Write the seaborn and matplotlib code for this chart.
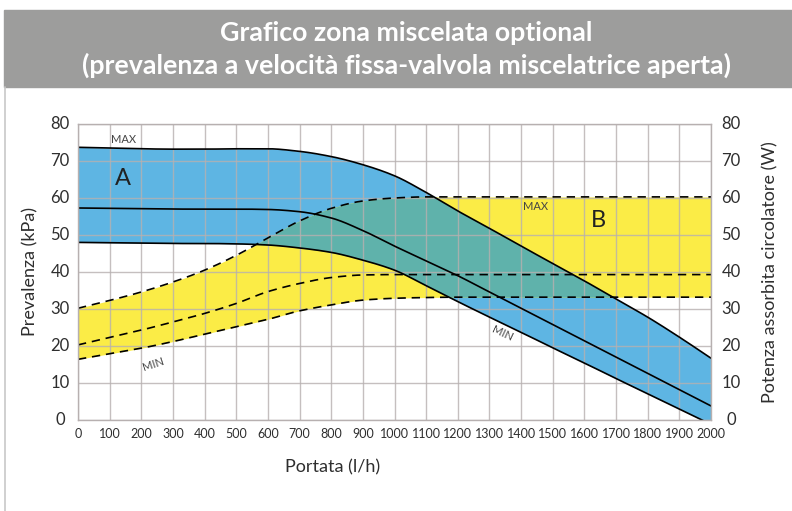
import numpy as np
import pandas as pd
import matplotlib
matplotlib.use("Agg")
import matplotlib.pyplot as plt
import seaborn as sns
from matplotlib.lines import Line2D
from matplotlib.patches import Rectangle

# ---- data ----
portata = [0, 100, 200, 300, 400, 500, 600, 700, 800, 900, 1000, 1100, 1200,
           1300, 1400, 1500, 1600, 1700, 1800, 1900, 2000]
prev_max = [73.7, 73.5, 73.3, 73.2, 73.2, 73.3, 73.3, 72.6, 71.2, 69.0, 66.0, 61.5,
            56.5, 51.8, 47.0, 42.3, 37.6, 32.7, 27.8, 22.4, 16.7]
prev_mid = [57.3, 57.2, 57.1, 57.0, 57.0, 57.0, 56.9, 56.3, 54.6, 51.2, 47.0, 43.0,
            39.0, 34.6, 30.2, 25.8, 21.4, 17.0, 12.6, 8.2, 3.8]
prev_min = [48.0, 47.9, 47.8, 47.7, 47.7, 47.6, 47.3, 46.5, 45.3, 43.2, 40.5, 36.3,
            32.0, 27.8, 23.7, 19.5, 15.4, 11.2, 7.1, 3.0, -1.2]
pot_max = [30.2, 32.3, 34.6, 37.3, 40.5, 44.5, 49.2, 53.8, 57.2, 59.2, 60.0, 60.3,
           60.3, 60.3, 60.3, 60.3, 60.3, 60.3, 60.3, 60.3, 60.3]
pot_mid = [20.3, 22.3, 24.3, 26.5, 28.8, 31.5, 34.7, 36.9, 38.5, 39.2, 39.3, 39.3,
           39.3, 39.3, 39.3, 39.3, 39.3, 39.3, 39.3, 39.3, 39.3]
pot_min = [16.4, 17.9, 19.4, 21.2, 23.2, 25.2, 27.2, 29.5, 31.1, 32.4, 32.9, 33.1,
           33.2, 33.2, 33.2, 33.2, 33.2, 33.2, 33.2, 33.2, 33.2]
x_ticks = list(range(0, 2001, 100))
y_ticks = list(range(0, 81, 10))

df = pd.DataFrame(dict(portata=portata, prev_max=prev_max, prev_mid=prev_mid,
                       prev_min=prev_min, pot_max=pot_max, pot_mid=pot_mid,
                       pot_min=pot_min))

xf = np.linspace(0, 2000, 801)


def pchip(x, y, xn):
    x = np.asarray(x, float)
    y = np.asarray(y, float)
    h = np.diff(x)
    delta = np.diff(y) / h
    n = len(x)
    d = np.zeros(n)
    for i in range(1, n - 1):
        if delta[i - 1] * delta[i] <= 0:
            d[i] = 0.0
        else:
            w1 = 2 * h[i] + h[i - 1]
            w2 = h[i] + 2 * h[i - 1]
            d[i] = (w1 + w2) / (w1 / delta[i - 1] + w2 / delta[i])
    d[0] = delta[0]
    d[-1] = delta[-1]
    idx = np.clip(np.searchsorted(x, xn) - 1, 0, n - 2)
    t = (xn - x[idx]) / h[idx]
    h00 = 2 * t**3 - 3 * t**2 + 1
    h10 = t**3 - 2 * t**2 + t
    h01 = -2 * t**3 + 3 * t**2
    h11 = t**3 - t**2
    return (h00 * y[idx] + h10 * h[idx] * d[idx] + h01 * y[idx + 1]
            + h11 * h[idx] * d[idx + 1])


c = {k: pchip(df.portata, df[k], xf)
     for k in ["prev_max", "prev_mid", "prev_min", "pot_max", "pot_mid", "pot_min"]}

BLUE = "#5eb5e3"
YELLOW = "#fbec46"
TEAL = "#5fb2ab"
GRID = "#b7b0b0"
TXT = "#2e2e2e"

sns.set_theme(style="white")
plt.rcParams["font.family"] = ["Lato", "DejaVu Sans"]

fig = plt.figure(figsize=(7.92, 5.11), dpi=100)
ax = fig.add_axes([78 / 792, 1 - 420 / 511, (711 - 78) / 792, (420 - 124) / 511])

# fills
ax.fill_between(xf, c["prev_min"], c["prev_max"], color=BLUE, lw=0, zorder=1)
ax.fill_between(xf, c["pot_min"], c["pot_max"], color=YELLOW, lw=0, zorder=1)
lo = np.maximum(c["prev_min"], c["pot_min"])
hi = np.minimum(c["prev_max"], c["pot_max"])
ax.fill_between(xf, lo, hi, where=hi > lo, color=TEAL, lw=0, zorder=2, interpolate=True)

# grid on top of fills
for xv in x_ticks:
    ax.axvline(xv, color=GRID, lw=1.0, alpha=0.8, zorder=3)
for yv in y_ticks:
    ax.axhline(yv, color=GRID, lw=1.0, alpha=0.8, zorder=3)

# curves
for k in ["prev_max", "prev_mid", "prev_min"]:
    sns.lineplot(x=xf, y=c[k], ax=ax, color="black", lw=1.2, zorder=4)
for k in ["pot_max", "pot_mid", "pot_min"]:
    sns.lineplot(x=xf, y=c[k], ax=ax, color="black", lw=1.2, zorder=4,
                 linestyle=(0, (5, 3.5)))

ax.set_xlim(0, 2000)
ax.set_ylim(0, 80)
ax.set_xticks(x_ticks)
ax.set_yticks(y_ticks)
ax.set_xticklabels([str(v) for v in x_ticks], fontsize=9, color=TXT)
ax.set_yticklabels([])
ax.tick_params(axis="both", length=0, pad=6)
for s in ax.spines.values():
    s.set_color(GRID)
    s.set_linewidth(1.0)
    s.set_zorder(5)

# y tick labels (left & right), centered
for yv in y_ticks:
    yl = ax.transData.transform((0, yv))[1]
    fig.text(60 / 792, yl / fig.dpi / 5.11, str(yv), ha="center", va="center",
             fontsize=12, color=TXT)
    fig.text(731 / 792, yl / fig.dpi / 5.11, str(yv), ha="center", va="center",
             fontsize=12, color=TXT)

ax.set_xlabel("")
ax.set_ylabel("")
fig.text(333 / 792, 1 - 467 / 511, "Portata (l/h)", ha="center", va="center",
         fontsize=13, color=TXT)
fig.text(30 / 792, 1 - 272 / 511, "Prevalenza (kPa)", ha="center", va="center",
         fontsize=13, color=TXT, rotation=90)
fig.text(770 / 792, 1 - 272 / 511, "Potenza assorbita circolatore (W)", ha="center",
         va="center", fontsize=13, color=TXT, rotation=90)

# annotations
ax.text(145, 75.7, "MAX", ha="center", va="center", fontsize=8, color="#444444", zorder=6)
ax.text(142, 65.4, "A", ha="center", va="center", fontsize=17, color="#222222", zorder=6)
ax.text(237, 15.1, "MIN", ha="center", va="center", fontsize=8, color="#444444",
        rotation=18, zorder=6)
ax.text(1447, 57.8, "MAX", ha="center", va="center", fontsize=8, color="#444444", zorder=6)
ax.text(1643, 54.0, "B", ha="center", va="center", fontsize=17, color="#222222", zorder=6)
ax.text(1340, 23.5, "MIN", ha="center", va="center", fontsize=8, color="#444444",
        rotation=-25, zorder=6)

# title band
fig.patches.append(Rectangle((4 / 792, 1 - 87 / 511), 788 / 792, 77 / 511,
                             transform=fig.transFigure, color="#9d9d9c", zorder=0))
fig.text(406 / 792, 1 - 33 / 511, "Grafico zona miscelata optional", ha="center",
         va="center", fontsize=19.3, fontweight="bold", color="white")
fig.text(407 / 792, 1 - 65 / 511,
         "(prevalenza a velocità fissa-valvola miscelatrice aperta)", ha="center",
         va="center", fontsize=19.3, fontweight="bold", color="white")
fig.lines.append(Line2D([5 / 792, 5 / 792], [0, 1 - 87 / 511], transform=fig.transFigure,
                        color="#c8c8c8", lw=1.2))

fig.savefig("out.png", dpi=100)
